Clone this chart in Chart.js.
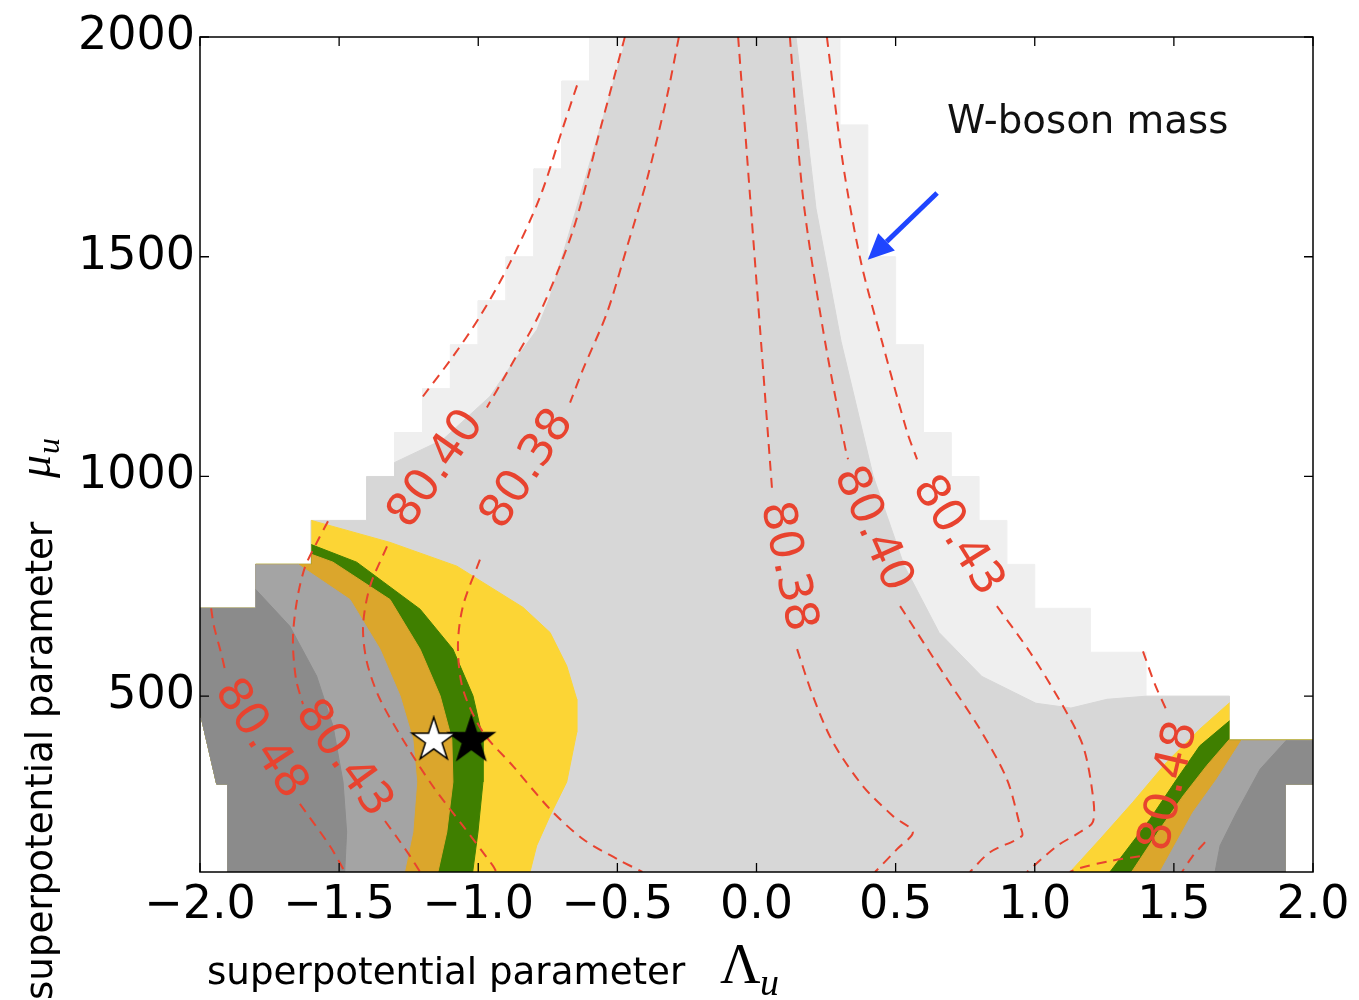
<!DOCTYPE html>
<html>
<head>
<meta charset="utf-8">
<title>W-boson mass contours</title>
<script src="https://cdn.jsdelivr.net/npm/chart.js@4.4.1/dist/chart.umd.min.js"></script>
<style>
  body { margin: 0; background: #fff; }
  canvas { display: block; }
</style>
</head>
<body>
<canvas id="wmass" width="1359" height="1000"></canvas>
<script>
// axes
const xTicks = [-2, -1.5, -1, -0.5, 0, 0.5, 1, 1.5, 2];
const yTicks = [500, 1000, 1500, 2000];

// scanned region of the (Lambda_u, mu_u) grid, stepped edge
const scanRegion = [
  [-0.6, 2000], [-0.6, 1900], [-0.7, 1900], [-0.7, 1700], [-0.8, 1700], [-0.8, 1500], [-0.9, 1500],
  [-0.9, 1400], [-1.0, 1400], [-1.0, 1300], [-1.1, 1300], [-1.1, 1200], [-1.2, 1200], [-1.2, 1100],
  [-1.3, 1100], [-1.3, 1000], [-1.4, 1000], [-1.4, 900], [-1.6, 900], [-1.6, 800], [-1.8, 800],
  [-1.8, 700], [-2.0, 700], [-2.0, 464], [-1.94, 300], [-1.9, 300], [-1.9, 100], [1.9, 100],
  [1.9, 300], [2.0, 300], [2.0, 400], [1.7, 400], [1.7, 500], [1.4, 500], [1.4, 600], [1.2, 600],
  [1.2, 700], [1.0, 700], [1.0, 800], [0.9, 800], [0.9, 900], [0.8, 900], [0.8, 1000], [0.7, 1000],
  [0.7, 1100], [0.6, 1100], [0.6, 1300], [0.5, 1300], [0.5, 1500], [0.4, 1500], [0.4, 1800],
  [0.3, 1800], [0.3, 2000]
];

// inner (darker) allowed region
const innerRegion = [
  [-0.466, 2000], [-0.670, 1561], [-0.742, 1409], [-0.789, 1334], [-0.875, 1259], [-0.958, 1182],
  [-1.127, 1084], [-1.3, 1032], [-1.3, 1000], [-1.4, 1000], [-1.4, 900], [-1.6, 900], [-1.6, 800],
  [-1.8, 800], [-1.8, 700], [-2.0, 700], [-2.0, 464], [-1.94, 300], [-1.9, 300], [-1.9, 100],
  [1.9, 100], [1.9, 300], [2.0, 300], [2.0, 400], [1.7, 400], [1.7, 500], [1.4, 500], [1.26, 493],
  [1.13, 473], [1.004, 484], [0.81, 545], [0.656, 645], [0.53, 798], [0.419, 1002], [0.304, 1307],
  [0.214, 1609], [0.142, 2000]
];

// left branch bands
const yellowLeft = [
  [-1.6, 900], [-1.317, 850], [-1.077, 796], [-0.839, 702], [-0.742, 645], [-0.682, 569], [-0.646, 493],
  [-0.646, 418], [-0.682, 305], [-0.742, 228], [-0.790, 160], [-0.814, 100],
  [-1.9, 100], [-1.9, 300], [-1.94, 300], [-2.0, 464], [-2.0, 700], [-1.8, 700], [-1.8, 800], [-1.6, 800]
];
const greenLeft = [
  [-1.6, 845], [-1.437, 805], [-1.209, 698], [-1.091, 607], [-1.019, 501], [-0.983, 402], [-0.983, 305],
  [-1.001, 191], [-1.02, 100],
  [-1.9, 100], [-1.9, 300], [-1.94, 300], [-2.0, 464], [-2.0, 700], [-1.8, 700], [-1.8, 800], [-1.6, 800]
];
const orangeLeft = [
  [-1.6, 823], [-1.522, 805], [-1.317, 720], [-1.209, 607], [-1.137, 501], [-1.095, 402], [-1.091, 305],
  [-1.113, 191], [-1.145, 100],
  [-1.9, 100], [-1.9, 300], [-1.94, 300], [-2.0, 464], [-2.0, 700], [-1.8, 700], [-1.8, 800], [-1.6, 800]
];
const midLeft = [
  [-1.648, 800], [-1.461, 720], [-1.353, 607], [-1.281, 501], [-1.235, 402], [-1.221, 305], [-1.235, 191],
  [-1.265, 100],
  [-1.9, 100], [-1.9, 300], [-1.94, 300], [-2.0, 464], [-2.0, 700], [-1.8, 700], [-1.8, 800]
];
const darkLeft = [
  [-1.8, 743], [-1.677, 659], [-1.581, 546], [-1.522, 432], [-1.486, 305], [-1.473, 191], [-1.48, 100],
  [-1.9, 100], [-1.9, 300], [-1.94, 300], [-2.0, 464], [-2.0, 700], [-1.8, 700]
];

// right branch bands
const yellowRight = [
  [1.7, 485], [1.593, 425], [1.474, 350], [1.353, 259], [1.235, 175], [1.127, 100],
  [1.9, 100], [1.9, 300], [2.0, 300], [2.0, 400], [1.7, 400]
];
const greenRight = [
  [1.7, 444], [1.593, 387], [1.510, 311], [1.414, 220], [1.270, 100],
  [1.9, 100], [1.9, 300], [2.0, 300], [2.0, 400], [1.7, 400]
];
const orangeRight = [
  [1.7, 402], [1.618, 342], [1.533, 273], [1.450, 198], [1.348, 100],
  [1.9, 100], [1.9, 300], [2.0, 300], [2.0, 400], [1.7, 400]
];
const midRight = [
  [1.744, 400], [1.654, 311], [1.569, 236], [1.450, 100],
  [1.9, 100], [1.9, 300], [2.0, 300], [2.0, 400]
];
const darkRight = [
  [1.905, 400], [1.810, 334], [1.726, 236], [1.666, 160], [1.648, 100],
  [1.9, 100], [1.9, 300], [2.0, 300], [2.0, 400]
];

// m_W contours (GeV), null = break for the inline label
const mw8038Left = [
  [-0.279, 2000], [-0.322, 1864], [-0.394, 1675], [-0.465, 1523], [-0.537, 1373], [-0.624, 1243], [-0.670, 1168],
  null,
  [-0.994, 811], [-1.055, 705], [-1.073, 614], [-1.055, 516], [-0.983, 418], [-0.875, 341], [-0.742, 243],
  [-0.624, 175], [-0.502, 130], [-0.41, 100]
];
const mw8040Left = [
  [-0.473, 2000], [-0.562, 1789], [-0.659, 1561], [-0.778, 1373], [-0.897, 1236], [-0.969, 1157],
  null,
  [-1.328, 841], [-1.389, 750], [-1.414, 659], [-1.400, 577], [-1.353, 493], [-1.256, 386], [-1.163, 295],
  [-1.055, 205], [-0.947, 114], [-0.935, 100]
];
const mw8043Left = [
  [-0.645, 1890], [-0.695, 1795], [-0.778, 1636], [-0.886, 1486], [-0.994, 1364], [-1.091, 1273], [-1.199, 1182],
  null,
  [-1.540, 898], [-1.580, 850], [-1.623, 793], [-1.651, 720], [-1.666, 630], [-1.655, 539], [-1.630, 482],
  null,
  [-1.335, 216], [-1.288, 175], [-1.245, 136], [-1.209, 100]
];
const mw8048Left = [
  [-1.96, 700], [-1.95, 660], [-1.925, 600], [-1.91, 560],
  null,
  [-1.641, 255], [-1.533, 159], [-1.479, 100]
];
const mw8038Right = [
  [-0.066, 2000], [-0.023, 1636], [0.013, 1334], [0.056, 970],
  null,
  [0.146, 607], [0.203, 500], [0.275, 395], [0.383, 295], [0.491, 227], [0.562, 191], [0.505, 152], [0.426, 100]
];
const mw8040Right = [
  [0.120, 2000], [0.167, 1636], [0.239, 1334], [0.318, 1068], [0.329, 1039],
  null,
  [0.516, 705], [0.685, 539], [0.803, 425], [0.900, 311], [0.947, 205], [0.954, 182], [0.839, 145], [0.767, 100]
];
const mw8043Right = [
  [0.253, 2000], [0.311, 1711], [0.375, 1489], [0.451, 1307], [0.541, 1102], [0.577, 1039],
  null,
  [0.864, 705], [0.983, 600], [1.102, 477], [1.174, 386], [1.209, 273], [1.209, 214], [1.163, 191],
  [1.080, 159], [0.972, 100]
];
const mw8048Right = [
  [1.389, 602], [1.432, 527], [1.475, 466],
  null,
  [1.378, 136], [1.270, 125], [1.162, 109], [1.126, 100],
  null,
  [1.612, 168], [1.565, 134], [1.529, 100]
];

// inline contour labels: text, Lambda_u, mu_u, angle (deg)
const contourLabels = [
  ['80.40', -1.148, 1016, -55],
  ['80.38', -0.821, 1016, -57],
  ['80.43', -1.486, 357, 54],
  ['80.48', -1.784, 402, 57],
  ['80.38', 0.110, 795, 78],
  ['80.40', 0.415, 880, 66],
  ['80.43', 0.721, 864, 58],
  ['80.48', 1.486, 295, -77]
];

// benchmark points
const openStar = [[-1.16, 400]];
const filledStar = [[-1.025, 400]];

// annotation
const noteText = 'W-boson mass';
const notePos = [0.685, 1782];
const arrowFrom = [0.649, 1645];
const arrowTo = [0.40, 1493];

const RED = '#e8432f';
const MINUS = '\u2212';

function toPoints(arr) {
  return arr.map(p => p ? { x: p[0], y: p[1] } : { x: null, y: null });
}

function band(data, color, order) {
  return {
    data: toPoints(data), showLine: true, fill: 'shape', tension: 0,
    backgroundColor: color, borderColor: color, borderWidth: 1,
    pointRadius: 0, pointHoverRadius: 0, order: order
  };
}

function contour(data) {
  return {
    data: toPoints(data), showLine: true, fill: false, tension: 0.3, spanGaps: false,
    borderColor: RED, borderWidth: 2, borderDash: [10, 7],
    pointRadius: 0, pointHoverRadius: 0, order: 2
  };
}

function starImage(fill, R) {
  const c = document.createElement('canvas');
  const s = Math.ceil(R * 2 + 4);
  c.width = c.height = s;
  const g = c.getContext('2d');
  g.beginPath();
  for (let i = 0; i < 10; i++) {
    const r = i % 2 ? R * 0.382 : R;
    const a = -Math.PI / 2 + i * Math.PI / 5;
    g.lineTo(s / 2 + r * Math.cos(a), s / 2 + r * Math.sin(a));
  }
  g.closePath();
  g.fillStyle = fill;
  g.fill();
  g.lineWidth = 1.5;
  g.strokeStyle = '#000';
  g.stroke();
  return c;
}

function pix(chart, x, y) {
  return [chart.scales.x.getPixelForValue(x), chart.scales.y.getPixelForValue(y)];
}

// draw text so that it spans the given width
function fitText(ctx, text, x, y, width, family, style) {
  ctx.font = (style || '') + ' 40px ' + family;
  const size = 40 * width / ctx.measureText(text).width;
  ctx.font = (style || '') + ' ' + size.toFixed(1) + 'px ' + family;
  ctx.fillText(text, x, y);
}

const decorations = {
  id: 'decorations',
  beforeDraw(chart) {
    const { ctx, width, height } = chart;
    ctx.save();
    ctx.fillStyle = '#fff';
    ctx.fillRect(0, 0, width, height);
    ctx.restore();
  },
  afterDatasetsDraw(chart) {
    const { ctx, chartArea: a } = chart;
    ctx.save();
    ctx.beginPath();
    ctx.rect(a.left, a.top, a.right - a.left, a.bottom - a.top);
    ctx.clip();

    // contour values
    ctx.fillStyle = RED;
    ctx.font = '46px "DejaVu Sans"';
    ctx.textAlign = 'center';
    ctx.textBaseline = 'middle';
    contourLabels.forEach(([t, x, y, rot]) => {
      const [X, Y] = pix(chart, x, y);
      ctx.save();
      ctx.translate(X, Y);
      ctx.rotate(rot * Math.PI / 180);
      ctx.fillText(t, 0, 0);
      ctx.restore();
    });

    // arrow pointing at the contours
    const [x0, y0] = pix(chart, arrowFrom[0], arrowFrom[1]);
    const [x1, y1] = pix(chart, arrowTo[0], arrowTo[1]);
    const ang = Math.atan2(y1 - y0, x1 - x0);
    const head = 26, half = 12;
    const bx = x1 - head * Math.cos(ang), by = y1 - head * Math.sin(ang);
    ctx.strokeStyle = '#1f45ff';
    ctx.fillStyle = '#1f45ff';
    ctx.lineWidth = 5;
    ctx.beginPath();
    ctx.moveTo(x0, y0);
    ctx.lineTo(bx, by);
    ctx.stroke();
    ctx.beginPath();
    ctx.moveTo(x1, y1);
    ctx.lineTo(bx + half * Math.sin(ang), by - half * Math.cos(ang));
    ctx.lineTo(bx - half * Math.sin(ang), by + half * Math.cos(ang));
    ctx.closePath();
    ctx.fill();

    // note
    const [nx, ny] = pix(chart, notePos[0], notePos[1]);
    ctx.fillStyle = '#111';
    ctx.textAlign = 'left';
    ctx.textBaseline = 'alphabetic';
    fitText(ctx, noteText, nx, ny, 281, '"DejaVu Sans"');
    ctx.restore();
  },
  afterDraw(chart) {
    const { ctx, chartArea: a } = chart;
    const xs = chart.scales.x, ys = chart.scales.y;
    ctx.save();
    ctx.strokeStyle = '#000';
    ctx.lineWidth = 1.5;
    ctx.strokeRect(a.left, a.top, a.right - a.left, a.bottom - a.top);

    // inward tick marks on all four sides
    const tl = 9;
    ctx.lineWidth = 1.3;
    ctx.beginPath();
    xTicks.forEach(v => {
      const X = xs.getPixelForValue(v);
      ctx.moveTo(X, a.bottom); ctx.lineTo(X, a.bottom - tl);
      ctx.moveTo(X, a.top); ctx.lineTo(X, a.top + tl);
    });
    yTicks.forEach(v => {
      const Y = ys.getPixelForValue(v);
      ctx.moveTo(a.left, Y); ctx.lineTo(a.left + tl, Y);
      ctx.moveTo(a.right, Y); ctx.lineTo(a.right - tl, Y);
    });
    ctx.stroke();

    // axis titles
    ctx.fillStyle = '#000';
    ctx.textAlign = 'left';
    ctx.textBaseline = 'alphabetic';
    fitText(ctx, 'superpotential parameter', 207, 984, 478, '"DejaVu Sans"');
    ctx.font = '56px "Liberation Serif"';
    ctx.fillText('\u039B', 720, 983);
    ctx.font = 'italic 38px "Liberation Serif"';
    ctx.fillText('u', 760, 995);

    ctx.save();
    ctx.translate(52, 1000);
    ctx.rotate(-Math.PI / 2);
    fitText(ctx, 'superpotential parameter', 0, 0, 478, '"DejaVu Sans"');
    ctx.font = 'italic 46px "Liberation Serif"';
    ctx.fillText('\u03BC', 522, -2);
    ctx.font = 'italic 32px "Liberation Serif"';
    ctx.fillText('u', 546, 7);
    ctx.restore();
    ctx.restore();
  }
};

const datasets = [
  band(scanRegion, '#efefef', 30),
  band(innerRegion, '#d7d7d7', 29),
  band(yellowLeft, '#fcd535', 28),
  band(greenLeft, '#3f7f00', 27),
  band(orangeLeft, '#dba62c', 26),
  band(midLeft, '#a4a4a4', 25),
  band(darkLeft, '#8b8b8b', 24),
  band(yellowRight, '#fcd535', 28),
  band(greenRight, '#3f7f00', 27),
  band(orangeRight, '#dba62c', 26),
  band(midRight, '#a4a4a4', 25),
  band(darkRight, '#8b8b8b', 24),
  contour(mw8038Left),
  contour(mw8040Left),
  contour(mw8043Left),
  contour(mw8048Left),
  contour(mw8038Right),
  contour(mw8040Right),
  contour(mw8043Right),
  contour(mw8048Right),
  {
    data: toPoints(openStar), pointStyle: starImage('#fff', 23), pointRadius: 12,
    pointHoverRadius: 12, order: 0
  },
  {
    data: toPoints(filledStar), pointStyle: starImage('#000', 24), pointRadius: 12,
    pointHoverRadius: 12, order: 0
  }
];

new Chart(document.getElementById('wmass'), {
  type: 'scatter',
  data: { datasets: datasets },
  options: {
    responsive: false,
    animation: false,
    events: [],
    layout: { padding: { left: 0, top: 37, right: 46, bottom: 0 } },
    plugins: { legend: { display: false }, tooltip: { enabled: false } },
    scales: {
      x: {
        type: 'linear', min: -2, max: 2,
        afterBuildTicks: s => { s.ticks = xTicks.map(v => ({ value: v })); },
        afterFit: s => { s.height = 128; },
        grid: { display: false, drawTicks: false },
        border: { display: false },
        ticks: {
          color: '#000', padding: 6, maxRotation: 0, autoSkip: false,
          font: { family: 'DejaVu Sans', size: 46 },
          callback: v => v.toFixed(1).replace('-', MINUS)
        }
      },
      y: {
        type: 'linear', min: 100, max: 2000,
        afterBuildTicks: s => { s.ticks = yTicks.map(v => ({ value: v })); },
        afterFit: s => { s.width = 200; },
        grid: { display: false, drawTicks: false },
        border: { display: false },
        ticks: {
          color: '#000', padding: 5, autoSkip: false,
          font: { family: 'DejaVu Sans', size: 46 },
          callback: v => String(v)
        }
      }
    }
  },
  plugins: [decorations]
});
</script>
</body>
</html>
